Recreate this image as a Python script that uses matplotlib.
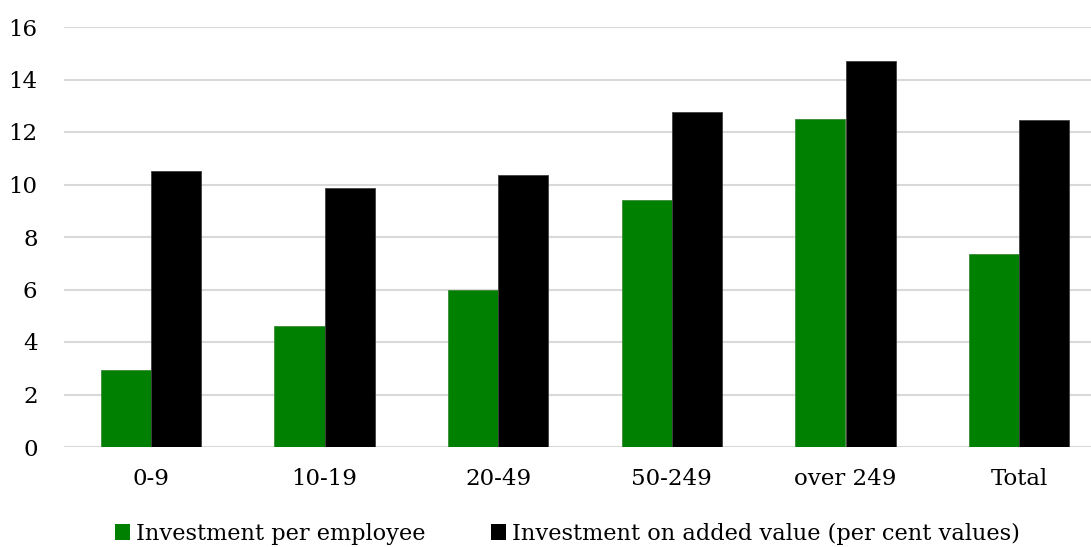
import matplotlib
matplotlib.use("Agg")
import matplotlib.pyplot as plt
import numpy as np
from matplotlib.patches import Patch

categories = ["0-9", "10-19", "20-49", "50-249", "over 249", "Total"]
per_employee = [2.95, 4.6, 6.0, 9.4, 12.5, 7.35]
on_added_value = [10.5, 9.88, 10.38, 12.75, 14.7, 12.45]
series_names = ["Investment per employee", "Investment on added value (per cent values)"]
yticks = [0, 2, 4, 6, 8, 10, 12, 14, 16]

plt.rcParams['font.family'] = ['DejaVu Serif']

fig = plt.figure(figsize=(10.91, 5.47), dpi=100)
W, H = 1091, 547
ax = fig.add_axes([64 / W, 100 / H, 1042 / W, 420 / H])

x = np.arange(len(categories))
bw = 0.288
ax.bar(x - bw / 2, per_employee, bw, color="#008000", edgecolor="#3a8a3a", linewidth=0.6, zorder=3)
ax.bar(x + bw / 2, on_added_value, bw, color="#000000", edgecolor="#404040", linewidth=0.6, zorder=3)

ax.set_xlim(-0.5, len(categories) - 0.5)
ax.set_ylim(0, 16)
ax.set_yticks(yticks)
ax.set_xticks(x)
ax.set_xticklabels(categories)
ax.yaxis.grid(True, color="#d9d9d9", linewidth=1.5, zorder=0)
ax.set_axisbelow(True)
for s in ax.spines.values():
    s.set_visible(False)
ax.tick_params(axis="both", length=0, labelsize=16.5, colors="#000000")
ax.tick_params(axis="y", pad=19)
ax.tick_params(axis="x", pad=15)

handles = [Patch(facecolor="#008000", edgecolor="none"), Patch(facecolor="#000000", edgecolor="none")]
fig.legend(handles, series_names, loc="center", bbox_to_anchor=(567.5 / W, 1 - 534 / H),
           ncol=2, frameon=False, fontsize=16.2, handlelength=0.68, handleheight=0.68,
           handletextpad=0.27, columnspacing=2.9, borderaxespad=0, borderpad=0)

fig.savefig("out.png", dpi=100)
